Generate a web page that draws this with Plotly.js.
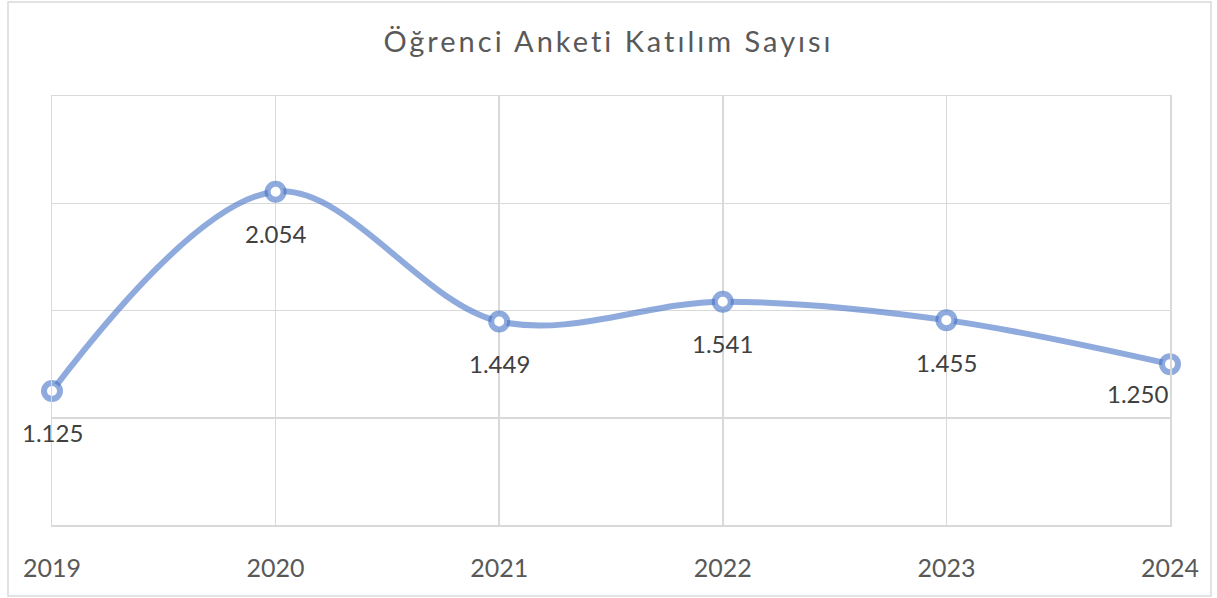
<!DOCTYPE html>
<html>
<head>
<meta charset="utf-8">
<script src="https://cdn.plot.ly/plotly-3.0.1.min.js"></script>
<style>
html,body{margin:0;padding:0;background:#fff;}
#chart{width:1217px;height:598px;}
#chart .gtitle{letter-spacing:3px;}
</style>
</head>
<body>
<div id="chart"></div>
<script>
const years = ['2019', '2020', '2021', '2022', '2023', '2024'];
const participants = [1125, 2054, 1449, 1541, 1455, 1250];
const labels = ['1.125', '2.054', '1.449', '1.541', '1.455', '1.250'];
const titleText = 'Öğrenci Anketi Katılım Sayısı';

const lineColor = 'rgba(68,114,196,0.6)';
const gridColor = '#d9d9d9';
const fontFam = 'Lato, "Open Sans", sans-serif';

const trace = {
  x: years,
  y: participants,
  type: 'scatter',
  mode: 'lines+markers',
  line: {color: lineColor, width: 6, shape: 'spline', smoothing: 1},
  marker: {size: 16, color: '#ffffff', line: {color: lineColor, width: 6}},
  hoverinfo: 'x+y',
  cliponaxis: false
};

const annotations = years.map((yr, i) => ({
  x: i,
  y: participants[i],
  xref: 'x',
  yref: 'y',
  text: labels[i],
  showarrow: false,
  xanchor: i === years.length - 1 ? 'right' : 'center',
  yanchor: 'middle',
  yshift: i === years.length - 1 ? -29 : -42,
  font: {family: fontFam, size: 24, color: '#404040'}
}));

const layout = {
  width: 1217,
  height: 598,
  margin: {l: 52, r: 47, t: 96, b: 73},
  paper_bgcolor: '#ffffff',
  plot_bgcolor: '#ffffff',
  showlegend: false,
  title: {
    text: titleText,
    x: 0.5,
    xanchor: 'center',
    y: 1 - 42 / 598,
    yanchor: 'middle',
    font: {family: fontFam, size: 29, color: '#595959'}
  },
  xaxis: {
    type: 'category',
    range: [0, 5],
    showgrid: true,
    gridcolor: gridColor,
    gridwidth: 1.5,
    showline: true,
    linecolor: gridColor,
    linewidth: 1.5,
    mirror: true,
    ticks: '',
    ticklabelstandoff: 20,
    tickfont: {family: fontFam, size: 25, color: '#595959'},
    fixedrange: true
  },
  yaxis: {
    range: [500, 2500],
    dtick: 500,
    tick0: 500,
    showgrid: true,
    gridcolor: gridColor,
    gridwidth: 1.5,
    zeroline: false,
    showline: true,
    linecolor: gridColor,
    linewidth: 1.5,
    mirror: true,
    showticklabels: false,
    ticks: '',
    fixedrange: true
  },
  annotations: annotations,
  shapes: [{
    type: 'rect',
    xref: 'paper', yref: 'paper',
    x0: (8 - 52) / 1118, x1: (1211 - 52) / 1118,
    y0: (525 - 596) / 429, y1: (525 - 2) / 429,
    line: {color: '#d9d9d9', width: 1.5},
    fillcolor: 'rgba(0,0,0,0)',
    layer: 'below'
  }]
};

Plotly.newPlot('chart', [trace], layout, {displayModeBar: false, staticPlot: true});
</script>
</body>
</html>
